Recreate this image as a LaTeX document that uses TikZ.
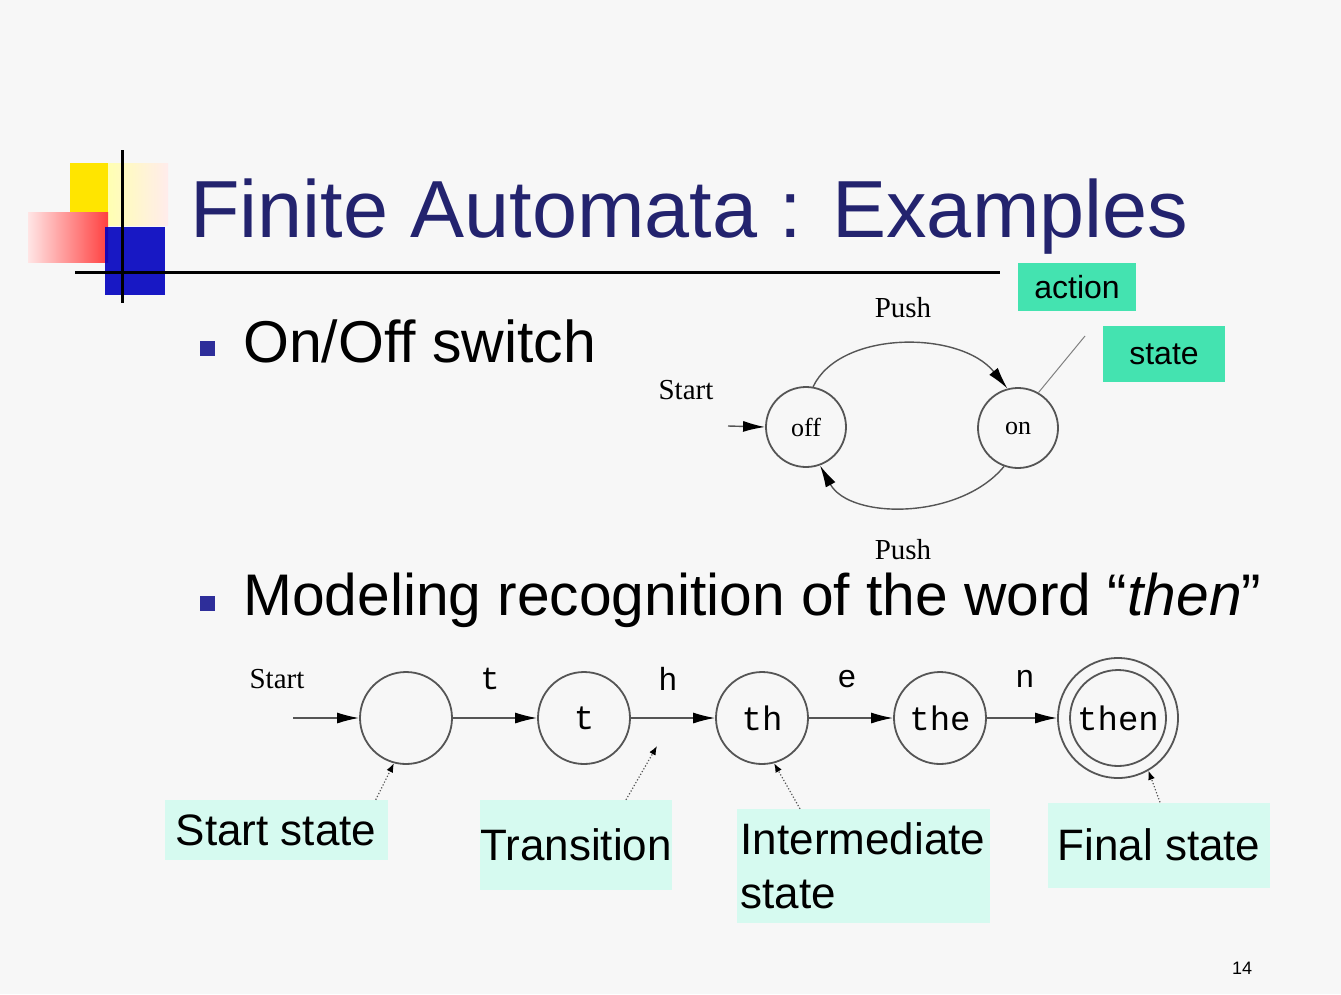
\documentclass[tikz,border=0pt]{standalone}
\usepackage{fontspec}
\setmainfont{Liberation Sans}
\newfontfamily\serifx{Liberation Serif}
\newfontfamily\monox{Liberation Mono}
\usetikzlibrary{arrows.meta}
\definecolor{bg}{HTML}{F7F7F7}
\definecolor{titleblue}{HTML}{23236E}
\definecolor{bulletblue}{HTML}{2E2E9A}
\definecolor{tealbox}{HTML}{44E3B0}
\definecolor{lightbox}{HTML}{D6FAF0}
\definecolor{linegray}{HTML}{555555}
\tikzset{
  fsz/.style={font=\fontsize{#1}{#1}\selectfont},
  sstate/.style={circle, draw=linegray, line width=1.8pt, inner sep=0pt, minimum size=80pt, font=\serifx\fontsize{26}{26}\selectfont},
  wstate/.style={circle, draw=linegray, line width=1.8pt, inner sep=0pt, minimum size=92pt, font=\monox\fontsize{34}{34}\selectfont},
  trans/.style={draw=linegray, line width=1.4pt, -{Latex[length=22pt,width=11pt,fill=black,color=black]}},
  serlbl/.style={inner sep=0pt, font=\serifx\fontsize{29}{29}\selectfont},
  monolbl/.style={inner sep=0pt, font=\monox\fontsize{32}{32}\selectfont},
  tagbox/.style={fill=tealbox, inner sep=0pt, font=\fontsize{32}{32}\selectfont},
  notebox/.style={fill=lightbox, inner sep=0pt, font=\fontsize{44}{54}\selectfont, align=left},
  pointer/.style={draw=linegray, line width=1.2pt, dotted, -{Latex[length=9pt,width=7pt,fill=black,color=black]}},
  bulletsq/.style={fill=bulletblue, inner sep=0pt, minimum size=15pt}
}
\begin{document}
\begin{tikzpicture}[x=1pt,y=-1pt]
\useasboundingbox (0,0) rectangle (1341,994);
\fill[bg] (0,0) rectangle (1341,994);

% logo
\shade[left color=yellow!30, right color=pink!30] (108,163) rectangle (168,225);
\fill[orange!20!yellow] (70,163) rectangle (108,222);
\shade[left color=pink!40, right color=red!75] (28,212) rectangle (108,262);
\fill[blue!75!black, opacity=0.9] (105,227) rectangle (165,295);
\draw[line width=3pt] (122,150) -- (122,303);
\draw[line width=3pt] (75,272) -- (1000,272);

% title
\node[anchor=base west, inner sep=0pt, text=titleblue, fsz=81] (title) at (190,237) {Finite Automata : Examples};

% bullet 1
\node[bulletsq] (b1) at (207,348) {};
\node[anchor=base west, inner sep=0pt, fsz=59] (t1) at (243,362) {On/Off switch};

% on/off automaton
\node[sstate] (off) at (806,427) {off};
\node[sstate] (on) at (1018,428) {on};
\coordinate (s1) at (728,426);
\node[serlbl] (start1) at (686,390) {Start};
\draw[trans] (s1) -- (off.west);
\draw[trans] (off.80) .. controls (840,330) and (960,330) .. (on.105);
\draw[trans] (on.250) .. controls (960,520) and (850,520) .. (off.290);
\node[serlbl] (push1) at (903,308) {Push};
\node[serlbl] (push2) at (903,550) {Push};
\node[tagbox, minimum width=118pt, minimum height=48pt] (action) at (1077,287) {action};
\node[tagbox, minimum width=122pt, minimum height=56pt] (statebox) at (1164,354) {state};
\coordinate (sa) at (1085,336);
\draw[draw=gray, line width=1pt] (sa) -- (on.60);

% bullet 2
\node[bulletsq] (b2) at (207,603) {};
\node[anchor=base west, inner sep=0pt, fsz=58.7] (t2) at (243,615) {Modeling recognition of the word \textquotedblleft\textit{then}\textquotedblright};

% then automaton
\node[wstate] (q0) at (406,718) {};
\node[wstate] (q1) at (584,718) {t};
\node[wstate] (q2) at (762,718) {th};
\node[wstate] (q3) at (940,718) {the};
\node[wstate, minimum size=96pt] (q4) at (1118,718) {then};
\node[circle, draw=linegray, line width=1.8pt, minimum size=120pt, inner sep=0pt] (q4o) at (1118,718) {};
\coordinate (s2) at (293,718);
\node[serlbl] (start2) at (277,679) {Start};
\draw[trans] (s2) -- (q0);
\draw[trans] (q0) -- (q1);
\draw[trans] (q1) -- (q2);
\draw[trans] (q2) -- (q3);
\draw[trans] (q3) -- (q4o);
\node[monolbl] (lt) at (490,679) {t};
\node[monolbl] (lh) at (668,679) {h};
\node[monolbl] (le) at (847,679) {e};
\node[monolbl] (ln) at (1025,679) {n};

% annotation boxes
\node[notebox, minimum width=223pt, minimum height=60pt] (startbox) at (276,830) {Start state};
\node[notebox, minimum width=192pt, minimum height=90pt] (transbox) at (576,845) {Transition};
\node[notebox, minimum width=253pt, minimum height=114pt] (interbox) at (863,866) {Intermediate\\state};
\node[notebox, minimum width=222pt, minimum height=85pt] (finalbox) at (1159,845) {Final state};
\coordinate (tpt) at (657,746);
\draw[pointer] ([xshift=-12pt]startbox.north east) -- (q0.255);
\draw[pointer] ([xshift=50pt]transbox.north) -- (tpt);
\draw[pointer] ([xshift=-63pt]interbox.north) -- (q2.285);
\draw[pointer] ([xshift=1pt]finalbox.north) -- (q4o.300);

% page number
\node[inner sep=0pt, fsz=18] (pg) at (1242,968) {14};
\end{tikzpicture}
\end{document}
